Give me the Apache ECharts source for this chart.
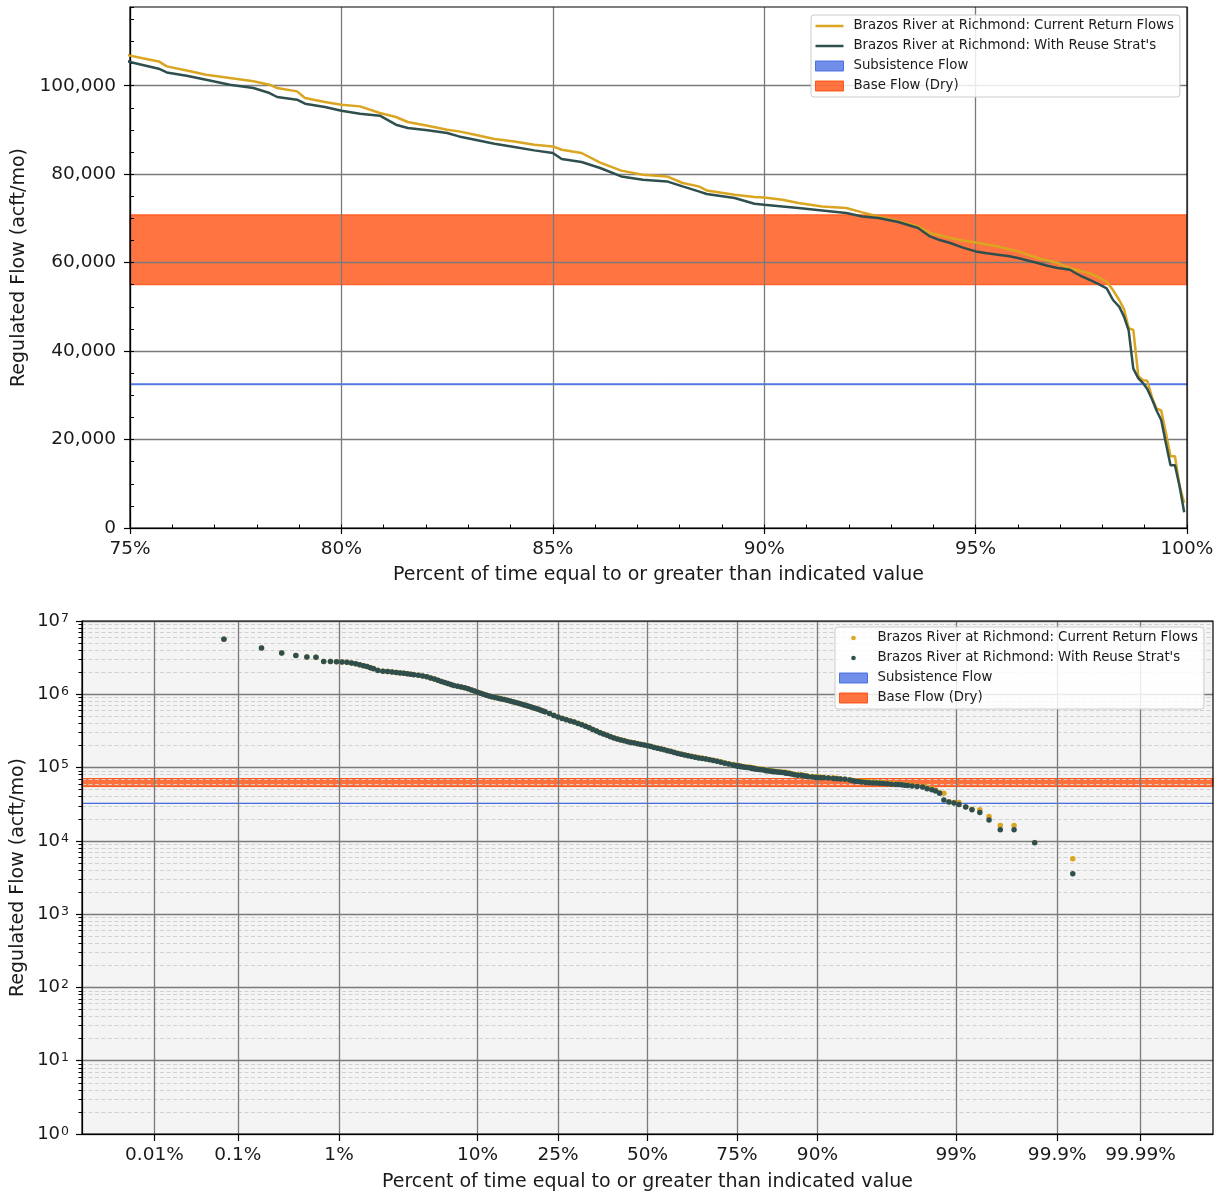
<!DOCTYPE html>
<html>
<head>
<meta charset="utf-8">
<title>Brazos River at Richmond - Flow Duration</title>
<script src="https://cdn.jsdelivr.net/npm/echarts@6/dist/echarts.min.js"></script>
<style>
  html, body { margin: 0; padding: 0; background: #ffffff; }
  #chart { width: 1225px; height: 1198px; }
</style>
</head>
<body>
<div id="chart"></div>
<script>
// ---- Flow-duration data (percent of time exceeded, regulated flow in acft/mo) ----
const exceedPct = [
  0.07, 0.18, 0.29, 0.40, 0.51, 0.62, 0.73, 0.84, 0.95,
  1.06, 1.17, 1.28, 1.39, 1.50, 1.61, 1.72, 1.83, 1.94,
  2.1, 2.3, 2.5, 2.7, 2.9, 3.1, 3.3, 3.5, 3.7, 3.9,
  4.2, 4.5, 4.8, 5.1, 5.4, 5.7, 6.0, 6.3, 6.6, 6.9,
  7.2, 7.6, 8.0, 8.4, 8.8, 9.2, 9.6, 10.0, 10.4, 10.8, 11.2, 11.6, 12.0,
  12.5, 13, 13.5, 14, 14.5, 15, 15.5, 16, 16.5, 17, 17.5, 18, 18.5, 19, 19.5, 20, 20.5, 21, 21.5, 22,
  23, 24, 25, 26, 27, 28, 29, 30, 31, 32, 33, 34, 35, 36, 37, 38, 39, 40,
  41, 42, 43, 44, 45, 46, 47, 48, 49, 50, 51, 52, 53, 54, 55, 56, 57, 58, 59, 60,
  61, 62, 63, 64, 65, 66, 67, 68, 69, 70, 71, 72, 73, 74, 74.5,
  75.00, 75.30, 75.68, 75.87, 76.34, 76.80, 77.36, 77.92, 78.30, 78.48, 78.95, 79.14, 79.61,
  80.00, 80.44, 80.91, 81.29, 81.57, 82.04, 82.50, 82.78, 83.16, 83.62, 84.09, 84.56,
  85.00, 85.21, 85.68, 86.12, 86.62, 87.13, 87.70, 88.07, 88.45, 88.64, 89.30, 89.77,
  90.00, 90.43, 90.81, 91.37, 91.94, 92.32, 92.70, 93.17, 93.64, 93.92, 94.15, 94.40, 94.70,
  95.00, 95.27, 95.53, 95.77, 96.00, 96.23, 96.47, 96.70, 96.94, 97.08, 97.23, 97.37, 97.51,
  97.70, 97.90, 98.10, 98.25, 98.40, 98.51, 98.62,
  98.73, 98.85, 98.96, 99.06, 99.18, 99.28, 99.39, 99.50, 99.61, 99.715, 99.825, 99.933
];

const currentFlow = [
  5660000, 4270000, 3650000, 3380000, 3225000, 3210000, 2805000, 2795000, 2780000,
  2760000, 2730000, 2680000, 2610000, 2530000, 2450000, 2390000, 2310000, 2240000,
  2120000, 2070000, 2040000, 2010000, 1990000, 1960000, 1935000, 1905000, 1880000, 1855000,
  1815000, 1775000, 1730000, 1670000, 1615000, 1560000, 1500000, 1450000, 1400000, 1360000,
  1320000, 1285000, 1255000, 1230000, 1190000, 1150000, 1110000, 1065000, 1035000, 1005000, 975000, 950000, 928000,
  906000, 887000, 867000, 849000, 830000, 811000, 792000, 774000, 757000, 740000, 722000, 706000, 688000, 671000, 656000, 641000, 624000, 608000, 593000, 579000,
  547000, 517000, 491000, 470000, 452000, 434000, 419000, 401000, 386000, 368000, 351000, 332000, 316000, 301000, 288000, 277000, 265000, 255000,
  246000, 239000, 234000, 227000, 222000, 218000, 213000, 208000, 204000, 200000, 195000, 190000, 185000, 181000, 176000, 171000, 167000, 162000, 157000, 153000,
  150000, 146000, 143000, 140000, 137000, 135000, 132000, 129000, 126000, 123000, 120000, 116000, 113000, 110000, 108300,
  106800, 106200, 105500, 104370, 103460, 102500, 101740, 100990, 100230, 99480, 98720, 97220, 96320,
  95710, 95330, 93830, 92930, 91800, 90960, 90060, 89680, 88930, 87950, 87410, 86660,
  86280, 85530, 84790, 82600, 80800, 79880, 79500, 78000, 77240, 76330, 75360, 74840,
  74750, 74230, 73480, 72710, 72350, 71360, 70450, 69400, 68190, 66700, 66200, 65550, 65000,
  64570, 64100, 63670, 63100, 62540, 61800, 61050, 60500, 59920, 59300, 58790, 58400, 58030,
  57600, 56700, 55700, 53800, 51500, 49500, 45200,
  44800, 34300, 33400, 33300, 29300, 27000, 26570, 21530, 16230, 16230, 9500, 5700
];

const reuseFlow = [
  5658200, 4268400, 3648500, 3378600, 3223500, 3208400, 2803600, 2793500, 2778400,
  2758500, 2728300, 2678600, 2608400, 2528500, 2448300, 2388600, 2308500, 2238400,
  2118400, 2068500, 2038600, 2008300, 1988500, 1958600, 1933400, 1903500, 1878600, 1853400,
  1813500, 1773400, 1728600, 1668500, 1613300, 1558600, 1498500, 1448400, 1398600, 1358500,
  1318500, 1283400, 1253600, 1228500, 1188400, 1148600, 1108500, 1063400, 1033500, 1003600, 973400, 948500, 926400,
  904500, 885400, 865600, 847500, 828400, 809500, 790600, 772400, 755500, 738400, 720600, 704500, 686400, 669600, 654500, 639400, 622500, 606600, 591400, 577500,
  545500, 515400, 489600, 468500, 450400, 432600, 417500, 399400, 384600, 366500, 349400, 330600, 314500, 299400, 286600, 275500, 263400, 253600,
  244500, 237400, 232600, 225500, 220400, 216600, 211500, 206400, 202600, 198500, 193400, 188600, 183500, 179400, 174600, 169500, 165400, 160600, 155500, 151400,
  148600, 144500, 141400, 138600, 135500, 133400, 130600, 127500, 124500, 121600, 118500, 114600, 111500, 108600, 106900,
  105360, 104700, 103850, 103000, 102260, 101360, 100230, 99480, 98350, 97450, 96840, 95930, 95190,
  94350, 93670, 93220, 91190, 90440, 89910, 89310, 88540, 87790, 86890, 86140, 85380,
  84790, 83430, 82750, 81400, 79500, 78750, 78370, 77240, 76110, 75510, 74610, 73330,
  73100, 72710, 72350, 71810, 71210, 70450, 70090, 69200, 67830, 65930, 65100, 64440, 63400,
  62540, 62100, 61800, 61500, 61050, 60500, 59920, 59300, 58790, 58600, 58400, 57600, 56900,
  56100, 55200, 54200, 51550, 50000, 47800, 44700,
  36030, 33840, 32780, 31410, 28920, 26570, 24410, 19230, 14170, 14170, 9420, 3560
];

// Environmental flow standards (acft/mo)
const subsistenceFlow = [32400, 32600];
const baseFlowDry = [55000, 70800];

// Axis ticks
const topFlowTicks = [0, 20000, 40000, 60000, 80000, 100000];
const probTickPct = [0.01, 0.1, 1, 10, 25, 50, 75, 90, 99, 99.9, 99.99];
const probTickLabels = ['0.01%', '0.1%', '1%', '10%', '25%', '50%', '75%', '90%', '99%', '99.9%', '99.99%'];
const minorMultipliers = [2, 3, 4, 5, 6, 7, 8, 9];
const minorDecades = [1, 10, 100, 1000, 10000, 100000, 1000000];

// ---- Names and styling ----
const NAME_CUR = 'Brazos River at Richmond: Current Return Flows';
const NAME_REUSE = "Brazos River at Richmond: With Reuse Strat's";
const NAME_SUB = 'Subsistence Flow';
const NAME_BASE = 'Base Flow (Dry)';

const FONT = 'DejaVu Sans';
const TXT = '#1a1a1a';
const GOLD = '#daa520';
const SLATE = '#2f4f4f';
const BLUE_FILL = 'rgba(65,105,225,0.75)';
const BLUE_EDGE = 'rgba(65,105,225,0.9)';
const ORANGE_FILL = 'rgba(255,69,0,0.75)';
const ORANGE_EDGE = 'rgba(255,69,0,0.85)';
const GRID_MAJOR = '#7a7a7a';
const GRID_MINOR = '#d0d0d0';
const X_TITLE = 'Percent of time equal to or greater than indicated value';
const Y_TITLE = 'Regulated Flow (acft/mo)';

// Inverse of the standard normal CDF (Acklam's rational approximation),
// used for the normal-probability horizontal axis of the lower plot.
function probit(p) {
  const a = [-3.969683028665376e+01, 2.209460984245205e+02, -2.759285104469687e+02,
             1.383577518672690e+02, -3.066479806614716e+01, 2.506628277459239e+00];
  const b = [-5.447609879822406e+01, 1.615858368580409e+02, -1.556989798598866e+02,
             6.680131188771972e+01, -1.328068155288572e+01];
  const c = [-7.784894002430293e-03, -3.223964580411365e-01, -2.400758277161838e+00,
             -2.549671348754006e+00, 4.374664141464968e+00, 2.938163982698783e+00];
  const d = [7.784695709041462e-03, 3.224671290700398e-01, 2.445134137142996e+00,
             3.754408661907416e+00];
  const pLow = 0.02425, pHigh = 1 - pLow;
  let q, r;
  if (p < pLow) {
    q = Math.sqrt(-2 * Math.log(p));
    return (((((c[0]*q + c[1])*q + c[2])*q + c[3])*q + c[4])*q + c[5]) /
           ((((d[0]*q + d[1])*q + d[2])*q + d[3])*q + 1);
  }
  if (p > pHigh) {
    q = Math.sqrt(-2 * Math.log(1 - p));
    return -(((((c[0]*q + c[1])*q + c[2])*q + c[3])*q + c[4])*q + c[5]) /
            ((((d[0]*q + d[1])*q + d[2])*q + d[3])*q + 1);
  }
  q = p - 0.5; r = q * q;
  return (((((a[0]*r + a[1])*r + a[2])*r + a[3])*r + a[4])*r + a[5]) * q /
         (((((b[0]*r + b[1])*r + b[2])*r + b[3])*r + b[4])*r + 1);
}

// ---- Series data ----
const topCurrent = [], topReuse = [];
exceedPct.forEach((p, i) => {
  if (p >= 74) {
    topCurrent.push([p, currentFlow[i]]);
    topReuse.push([p, reuseFlow[i]]);
  }
});
const probCurrent = exceedPct.map((p, i) => [probit(p / 100), currentFlow[i]]);
const probReuse = exceedPct.map((p, i) => [probit(p / 100), reuseFlow[i]]);

const probTickZ = probTickPct.map(p => probit(p / 100));
const zLimit = -probit(0.00001);
const minorFlowValues = [];
minorDecades.forEach(dec => minorMultipliers.forEach(m => minorFlowValues.push(m * dec)));

function probLabel(v) {
  let best = 0;
  probTickZ.forEach((z, i) => { if (Math.abs(z - v) < Math.abs(probTickZ[best] - v)) best = i; });
  return probTickLabels[best];
}

// Legend icons: 28x10 boxes with a centred line or dot
const LINE_ICON = 'path://M0,0M28,10M0,3.75H28V6.25H0Z';
const DOT_ICON = 'path://M0,0M28,10M16.3,5A2.3,2.3,0,1,1,11.7,5A2.3,2.3,0,1,1,16.3,5Z';

const legendBase = {
  orient: 'vertical',
  itemWidth: 28,
  itemHeight: 10,
  itemGap: 6,
  padding: [4, 6, 4, 4],
  backgroundColor: 'rgba(255,255,255,0.85)',
  borderColor: '#cccccc',
  borderWidth: 1,
  borderRadius: 3,
  selectedMode: false,
  z: 10,
  textStyle: { fontFamily: FONT, fontSize: 13.3, color: TXT, lineHeight: 14, padding: [0, 0, 0, 5] }
};
const patchItems = [
  { name: NAME_SUB, icon: 'rect', itemStyle: { color: BLUE_FILL, borderColor: BLUE_EDGE, borderWidth: 1 } },
  { name: NAME_BASE, icon: 'rect', itemStyle: { color: ORANGE_FILL, borderColor: ORANGE_EDGE, borderWidth: 1 } }
];

function bandSeries(name, range, fill, edge, xi, yi) {
  return {
    name: name, type: 'line', xAxisIndex: xi, yAxisIndex: yi, data: [],
    itemStyle: { color: fill }, z: 1, silent: true,
    markArea: {
      silent: true, z: 1,
      itemStyle: { color: fill, borderColor: edge, borderWidth: 1 },
      data: [[{ yAxis: range[0] }, { yAxis: range[1] }]]
    }
  };
}

const axisLineStyle = { show: true, onZero: false, lineStyle: { color: '#000', width: 1.2 } };
const nameStyle = { fontFamily: FONT, fontSize: 19, color: TXT };
const labelStyle = { fontFamily: FONT, fontSize: 18.5, color: TXT };

const option = {
  animation: false,
  backgroundColor: '#ffffff',
  textStyle: { fontFamily: FONT },
  grid: [
    { left: 130, top: 7, width: 1057, height: 521, show: true, z: 3,
      backgroundColor: 'transparent', borderColor: '#000', borderWidth: 1.2, outerBoundsMode: 'none' },
    { left: 82, top: 621, width: 1131, height: 513, show: true, z: 3,
      backgroundColor: 'transparent', borderColor: '#000', borderWidth: 1.2, outerBoundsMode: 'none' },
    { left: 82, top: 621, width: 1131, height: 513, show: true, z: 0,
      backgroundColor: '#f4f4f4', borderWidth: 0, outerBoundsMode: 'none' }
  ],
  xAxis: [
    { gridIndex: 0, type: 'value', position: 'bottom', min: 75, max: 100, interval: 5, z: 2,
      axisLine: axisLineStyle,
      axisTick: { show: true, length: 6, lineStyle: { color: '#000', width: 1.2 } },
      axisLabel: Object.assign({ formatter: '{value}%', margin: 12 }, labelStyle),
      splitLine: { show: true, lineStyle: { color: GRID_MAJOR, width: 1.3 } },
      name: X_TITLE, nameLocation: 'middle', nameGap: 38, nameTextStyle: nameStyle, nameMoveOverlap: false },
    { gridIndex: 0, type: 'value', position: 'bottom', min: 75, max: 100, interval: 1, z: 2,
      axisLine: { show: false, onZero: false },
      axisTick: { show: true, inside: true, length: 3.5, lineStyle: { color: '#000', width: 1 } },
      axisLabel: { show: false }, splitLine: { show: false } },
    { gridIndex: 1, type: 'value', position: 'bottom', min: -zLimit, max: zLimit, z: 2,
      axisLine: axisLineStyle,
      axisTick: { show: true, length: 7, customValues: probTickZ, lineStyle: { color: '#000', width: 1.2 } },
      axisLabel: Object.assign({ customValues: probTickZ, formatter: probLabel, margin: 12 }, labelStyle),
      splitLine: { show: true, lineStyle: { color: GRID_MAJOR, width: 1.3 } },
      name: X_TITLE, nameLocation: 'middle', nameGap: 39, nameTextStyle: nameStyle, nameMoveOverlap: false }
  ],
  yAxis: [
    { gridIndex: 0, type: 'value', position: 'left', min: 0, max: 117800, interval: 20000, z: 2,
      axisLine: axisLineStyle,
      axisTick: { show: true, length: 6, customValues: topFlowTicks, lineStyle: { color: '#000', width: 1.2 } },
      axisLabel: Object.assign({ customValues: topFlowTicks, margin: 14,
        formatter: v => Number(v).toLocaleString('en-US') }, labelStyle),
      splitLine: { show: true, lineStyle: { color: GRID_MAJOR, width: 1.3 } },
      name: Y_TITLE, nameLocation: 'middle', nameGap: 101, nameRotate: 90,
      nameTextStyle: nameStyle, nameMoveOverlap: false },
    { gridIndex: 0, type: 'value', position: 'left', min: 0, max: 117800, interval: 5000, z: 2,
      axisLine: { show: false, onZero: false },
      axisTick: { show: true, inside: true, length: 4, lineStyle: { color: '#000', width: 1 } },
      axisLabel: { show: false }, splitLine: { show: false } },
    { gridIndex: 1, type: 'log', position: 'left', logBase: 10, min: 1, max: 10000000, z: 2,
      axisLine: axisLineStyle,
      axisTick: { show: true, length: 6, lineStyle: { color: '#000', width: 1.2 } },
      axisLabel: {
        margin: 13,
        formatter: v => '{b|10}{s|' + Math.round(Math.log10(v)) + '}',
        rich: {
          b: { fontFamily: FONT, fontSize: 18, color: TXT },
          s: { fontFamily: FONT, fontSize: 12.5, color: TXT, verticalAlign: 'top', padding: [0, 0, 0, 1] }
        }
      },
      splitLine: { show: true, lineStyle: { color: GRID_MAJOR, width: 1.3 } },
      name: Y_TITLE, nameLocation: 'middle', nameGap: 54, nameRotate: 90,
      nameTextStyle: nameStyle, nameMoveOverlap: false },
    { gridIndex: 1, type: 'log', position: 'left', logBase: 10, min: 1, max: 10000000, z: 1.5,
      axisLine: { show: false, onZero: false },
      axisTick: { show: true, length: 3.5, customValues: minorFlowValues, lineStyle: { color: '#000', width: 1 } },
      axisLabel: { show: false },
      splitLine: { show: true, lineStyle: { color: GRID_MINOR, width: 1, type: [4, 2.5] } } }
  ],
  legend: [
    Object.assign({}, legendBase, {
      left: 811, top: 15,
      data: [
        { name: NAME_CUR, icon: LINE_ICON, itemStyle: { color: GOLD, borderWidth: 0 } },
        { name: NAME_REUSE, icon: LINE_ICON, itemStyle: { color: SLATE, borderWidth: 0 } }
      ].concat(patchItems)
    }),
    Object.assign({}, legendBase, {
      left: 835, top: 627,
      data: [
        { name: NAME_CUR, icon: DOT_ICON, itemStyle: { color: GOLD, borderWidth: 0 } },
        { name: NAME_REUSE, icon: DOT_ICON, itemStyle: { color: SLATE, borderWidth: 0 } }
      ].concat(patchItems)
    })
  ],
  series: [
    // Upper plot: low-flow end of the duration curve
    { name: NAME_CUR, type: 'line', xAxisIndex: 0, yAxisIndex: 0, data: topCurrent,
      symbol: 'none', showSymbol: false, clip: true, z: 5,
      lineStyle: { color: GOLD, width: 2.5 }, itemStyle: { color: GOLD } },
    { name: NAME_REUSE, type: 'line', xAxisIndex: 0, yAxisIndex: 0, data: topReuse,
      symbol: 'none', showSymbol: false, clip: true, z: 5,
      lineStyle: { color: SLATE, width: 2.5 }, itemStyle: { color: SLATE } },
    bandSeries(NAME_SUB, subsistenceFlow, BLUE_FILL, BLUE_EDGE, 0, 0),
    bandSeries(NAME_BASE, baseFlowDry, ORANGE_FILL, ORANGE_EDGE, 0, 0),
    // Lower plot: full duration curve on probability / log axes
    { name: NAME_CUR, type: 'scatter', xAxisIndex: 2, yAxisIndex: 2, data: probCurrent,
      symbol: 'circle', symbolSize: 5.5, z: 5, itemStyle: { color: GOLD, opacity: 1 } },
    { name: NAME_REUSE, type: 'scatter', xAxisIndex: 2, yAxisIndex: 2, data: probReuse,
      symbol: 'circle', symbolSize: 5.5, z: 5, itemStyle: { color: SLATE, opacity: 1 } },
    bandSeries(NAME_SUB, subsistenceFlow, BLUE_FILL, BLUE_EDGE, 2, 2),
    bandSeries(NAME_BASE, baseFlowDry, ORANGE_FILL, ORANGE_EDGE, 2, 2)
  ]
};

const chart = echarts.init(document.getElementById('chart'), null, { renderer: 'canvas' });
chart.setOption(option);
</script>
</body>
</html>
